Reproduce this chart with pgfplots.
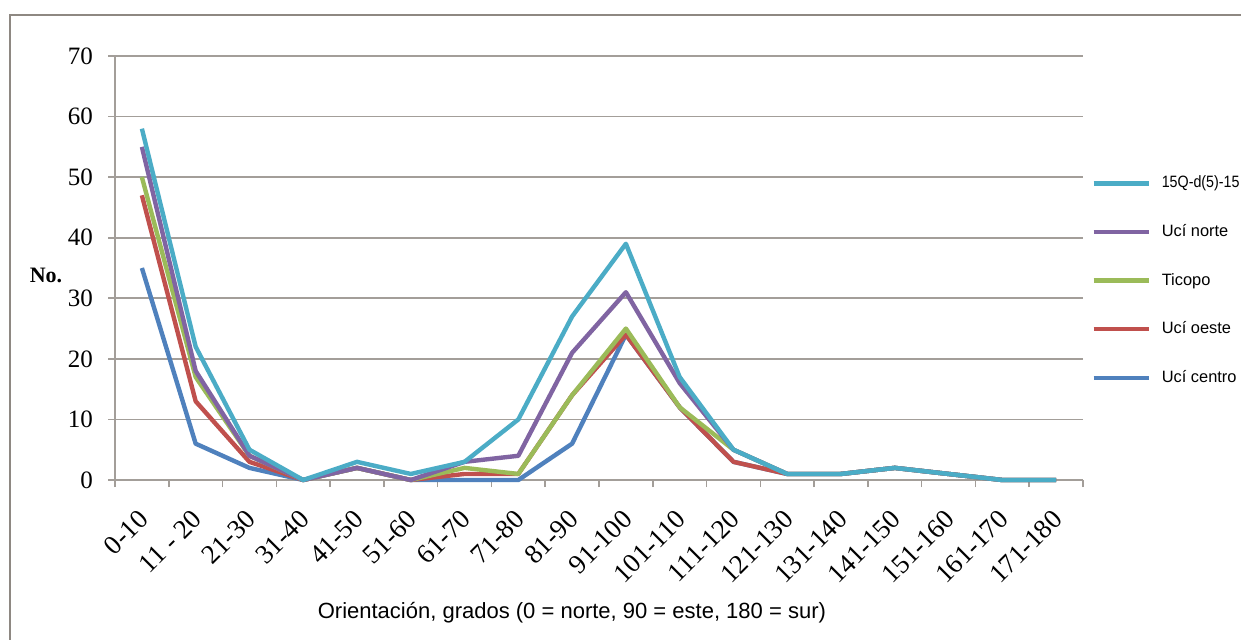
\documentclass[border=0pt]{standalone}
\usepackage{pgfplots}
\pgfplotsset{compat=1.18}
\usepackage{fontspec}
\setmainfont{Liberation Serif}
\newfontfamily\sansf{Liberation Sans}
\definecolor{cCyan}{HTML}{4BACC6}
\definecolor{cPurple}{HTML}{8064A2}
\definecolor{cGreen}{HTML}{9BBB59}
\definecolor{cRed}{HTML}{C0504D}
\definecolor{cBlue}{HTML}{4F81BD}
\definecolor{gridc}{HTML}{A39E99}
\definecolor{framec}{HTML}{8E8882}
\begin{document}
\begin{tikzpicture}
\useasboundingbox (0,0) rectangle (620.5pt,319.5pt);
\fill[white] (0,0) rectangle (620.5pt,319.5pt);
\draw[framec, line width=1.2pt] (5pt,-10pt) -- (5pt,312pt) -- (640pt,312pt);
\begin{axis}[
  at={(57.5pt,79.5pt)}, anchor=south west,
  scale only axis, width=484pt, height=212pt,
  xmin=0.5, xmax=18.5, ymin=0, ymax=70,
  axis lines=left,
  axis line style={gridc, line width=0.8pt, -},
  xtick={0.5,1.5,...,18.5},
  x tick label as interval,
  xticklabels={0-10,11 - 20,21-30,31-40,41-50,51-60,61-70,71-80,81-90,91-100,101-110,111-120,121-130,131-140,141-150,151-160,161-170,171-180},
  ytick={0,10,...,70},
  tick align=outside,
  major tick length=3.5pt,
  tick style={gridc, line width=0.8pt},
  ymajorgrids,
  grid style={gridc, line width=0.8pt},
  /pgf/number format/assume math mode=true,
  yticklabel style={font=\fontsize{12.5}{14}\selectfont, anchor=east, xshift=-4pt},
  xticklabel style={font=\fontsize{13.5}{15}\selectfont, xshift=-2.5pt, yshift=-9pt, rotate=45, anchor=north east, inner sep=1pt},
  xlabel={Orientación, grados (0 = norte, 90 = este, 180 = sur)},
  xlabel style={font=\sansf\fontsize{11}{13}\selectfont, at={(axis description cs:0.472,-0.314)}, anchor=center},
  ylabel={No.},
  ylabel style={font=\bfseries\fontsize{11}{13}\selectfont, rotate=-90, at={(axis description cs:-0.0713,0.4835)}, anchor=center},
  legend style={at={(axis description cs:1,0.4705)}, anchor=west, xshift=4pt, draw=none, fill=none, inner sep=0pt,
    font=\sansf\fontsize{8.2}{10}\selectfont, row sep=15.8pt, column sep=5.5pt,
    nodes={inner sep=0pt, text height=6.5pt, text depth=2pt}},
  legend cell align=left,
  reverse legend,
  legend image code/.code={\draw[#1, line width=2.2pt] (0pt,0pt) -- (27.5pt,0pt);},
  every axis plot/.append style={line width=2.2pt, line join=round, mark=none},
  clip=false,
]
\addplot[cBlue] coordinates {(1,35)(2,6)(3,2)(4,0)(5,2)(6,0)(7,0)(8,0)(9,6)(10,24)(11,12)(12,3)(13,1)(14,1)(15,2)(16,1)(17,0)(18,0)};
\addlegendentry{Ucí centro}
\addplot[cRed] coordinates {(1,47)(2,13)(3,3)(4,0)(5,2)(6,0)(7,1)(8,1)(9,14)(10,24)(11,12)(12,3)(13,1)(14,1)(15,2)(16,1)(17,0)(18,0)};
\addlegendentry{Ucí oeste}
\addplot[cGreen] coordinates {(1,50)(2,17)(3,4)(4,0)(5,2)(6,0)(7,2)(8,1)(9,14)(10,25)(11,12)(12,5)(13,1)(14,1)(15,2)(16,1)(17,0)(18,0)};
\addlegendentry{Ticopo}
\addplot[cPurple] coordinates {(1,55)(2,18)(3,4)(4,0)(5,2)(6,0)(7,3)(8,4)(9,21)(10,31)(11,16)(12,5)(13,1)(14,1)(15,2)(16,1)(17,0)(18,0)};
\addlegendentry{Ucí norte}
\addplot[cCyan] coordinates {(1,58)(2,22)(3,5)(4,0)(5,3)(6,1)(7,3)(8,10)(9,27)(10,39)(11,17)(12,5)(13,1)(14,1)(15,2)(16,1)(17,0)(18,0)};
\addlegendentry{\scalebox{0.87}[1]{15Q-d(5)-15}}
\end{axis}
\end{tikzpicture}
\end{document}
